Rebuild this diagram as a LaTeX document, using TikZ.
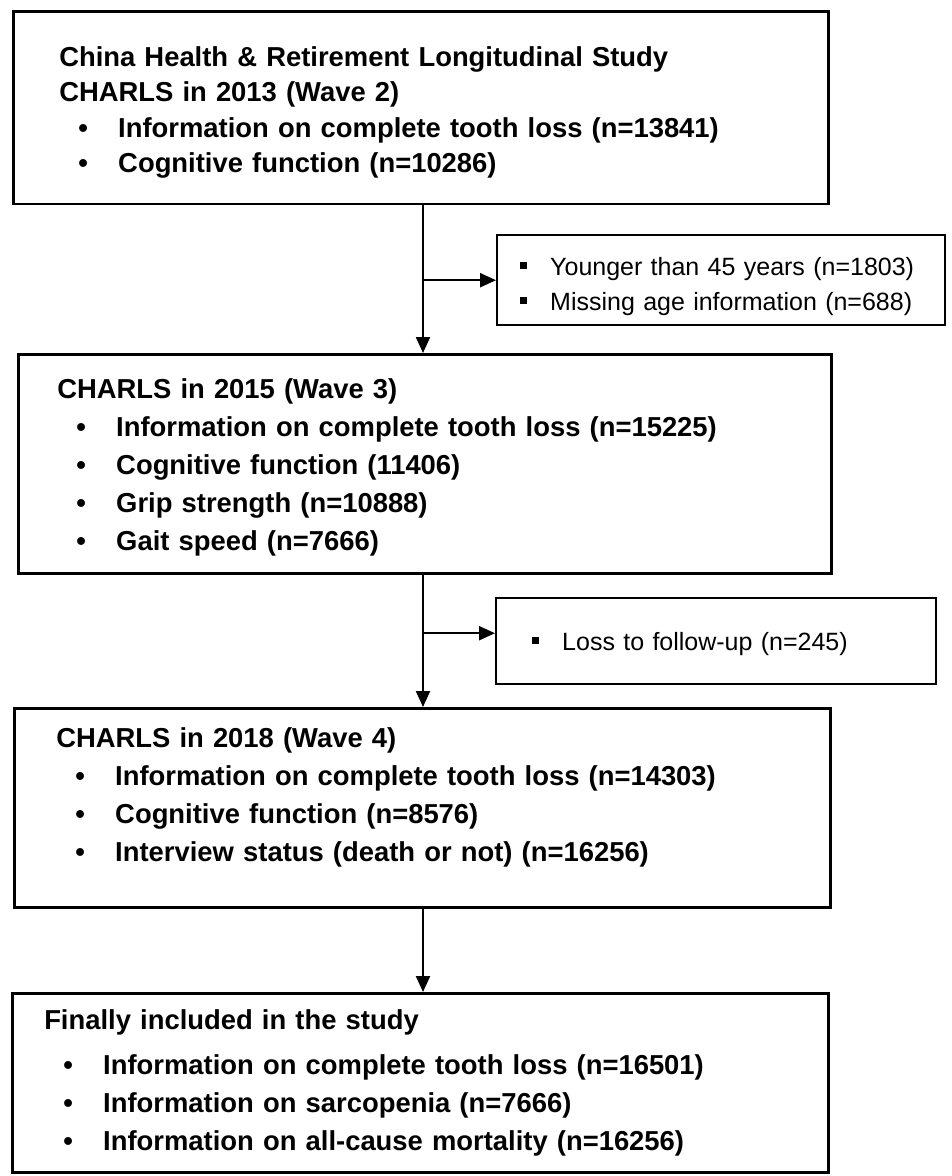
\documentclass[tikz,border=0pt]{standalone}
\usepackage{fontspec}
\setmainfont{Liberation Sans}
\usetikzlibrary{arrows.meta}
\newcommand{\bitem}[1]{\hspace*{19pt}\makebox[40pt][l]{\textbullet}#1}
\newcommand{\sqitem}[1]{\makebox[30pt][l]{\rule[6pt]{7pt}{7pt}}#1}
\newcommand{\gaptop}[1]{\rule{0pt}{#1pt}}
\newcommand{\gapbot}[1]{\rule[-#1pt]{0pt}{0pt}}
\tikzset{
  wavebox/.style={draw, line width=2.5pt, anchor=north west, align=left, inner ysep=0pt,
    font=\bfseries\fontsize{27.4}{38}\selectfont},
  exclbox/.style={draw, line width=2.4pt, anchor=north west, align=left, inner ysep=0pt,
    font=\fontsize{25}{35}\selectfont},
  edge/.style={-{Triangle[length=16pt,width=14pt]}, line width=2.2pt}
}

\begin{document}
\begin{tikzpicture}[x=1pt, y=-1pt]
\useasboundingbox (0,0) rectangle (951,1176);
\node[wavebox, inner xsep=46pt, text width=723pt, font=\bfseries\fontsize{27.4}{35.5}\selectfont] (w2013) at (12,10) {\gaptop{55}China Health \& Retirement Longitudinal Study\\
CHARLS in 2013 (Wave 2)\\
\bitem{Information on complete tooth loss (n=13841)}\\
\bitem{Cognitive function (n=10286)}\gapbot{31}};
\node[exclbox, inner xsep=23pt, text width=402pt] (excl1) at (496,234) {\gaptop{40}\sqitem{Younger than 45 years (n=1803)}\\
\sqitem{Missing age information (n=688)}\gapbot{15}};
\node[wavebox, inner xsep=39pt, text width=735pt] (w2015) at (17,353) {\gaptop{44}CHARLS in 2015 (Wave 3)\\
\bitem{Information on complete tooth loss (n=15225)}\\
\bitem{Cognitive function (11406)}\\
\bitem{Grip strength (n=10888)}\\
\bitem{Gait speed (n=7666)}\gapbot{23}};
\node[exclbox, inner xsep=36pt, text width=368pt] (excl2) at (495,597) {\gaptop{52}\sqitem{Loss to follow-up (n=245)}\gapbot{34}};
\node[wavebox, inner xsep=42pt, text width=732pt] (w2018) at (13,707) {\gaptop{39}CHARLS in 2018 (Wave 4)\\
\bitem{Information on complete tooth loss (n=14303)}\\
\bitem{Cognitive function (n=8576)}\\
\bitem{Interview status (death or not) (n=16256)}\gapbot{46}};
\node[wavebox, inner xsep=32pt, text width=752pt] (final) at (11,992) {\gaptop{36}Finally included in the study\\[7pt]
\bitem{Information on complete tooth loss (n=16501)}\\
\bitem{Information on sarcopenia (n=7666)}\\
\bitem{Information on all-cause mortality (n=16256)}\gapbot{22}};
\coordinate (spine) at (423,0);
\coordinate (cut2) at ([yshift=8pt]excl2.west);
\draw[edge] (w2013.south -| spine) -- (w2015.north -| spine);
\draw[edge] (spine |- excl1.west) -- (excl1.west);
\draw[edge] (w2015.south -| spine) -- (w2018.north -| spine);
\draw[edge] (spine |- cut2) -- (cut2);
\draw[edge] (w2018.south -| spine) -- (final.north -| spine);
\end{tikzpicture}
\end{document}
